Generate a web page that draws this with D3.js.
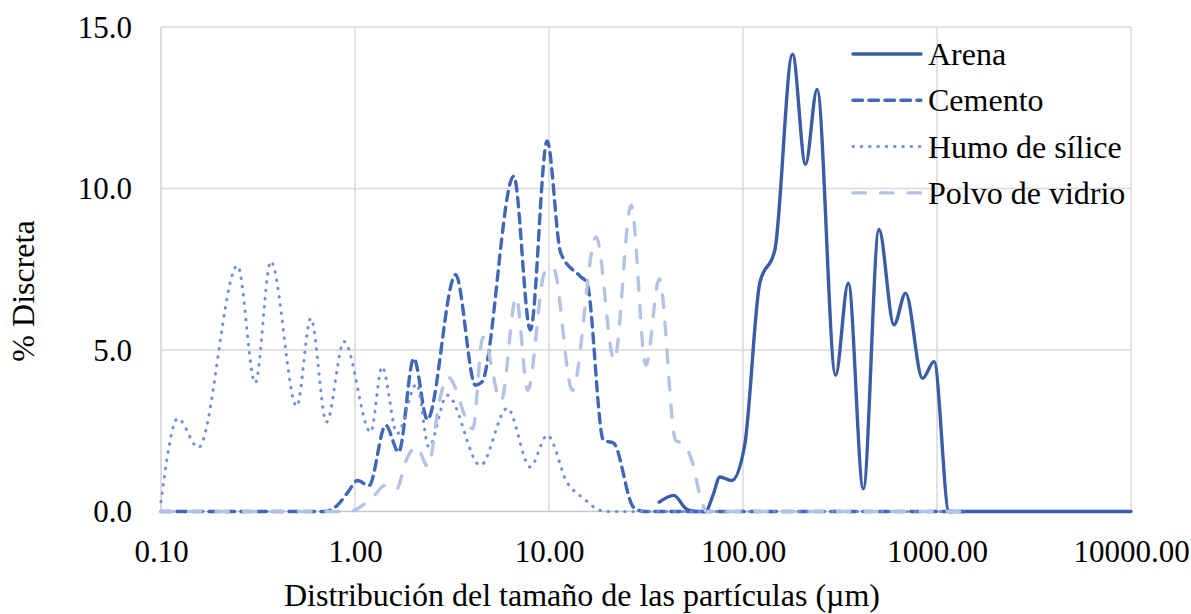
<!DOCTYPE html>
<html>
<head>
<meta charset="utf-8">
<script src="https://cdn.jsdelivr.net/npm/d3@7"></script>
<style>
  html, body { margin: 0; padding: 0; background: #ffffff; }
  svg { display: block; }
  text { font-family: "Liberation Serif", "Times New Roman", serif; fill: #000; }
</style>
</head>
<body>
<svg id="chart" width="1191" height="614"></svg>
<script>
// ---- Data ----
const seriesNames = ["Arena", "Cemento", "Humo de sílice", "Polvo de vidrio"];

const arenaX = [37, 44, 51, 57, 64, 70, 76, 87.5, 102, 122, 146, 180, 210, 241, 300, 349, 417, 502, 600, 689, 842, 966, 1154, 1500, 3000, 6000, 10000];
const arenaY = [0.29, 0.5, 0.08, 0, 0, 0.5, 1.07, 0.96, 2.05, 7.07, 8.1, 14.16, 10.75, 13.07, 4.22, 7.07, 0.7, 8.73, 5.78, 6.76, 4.12, 4.64, 0, 0, 0, 0, 0];

const cementoX = [0.1, 0.2, 0.4, 0.7, 0.81, 0.92, 1.03, 1.18, 1.44, 1.68, 2.01, 2.36, 3.3, 4.18, 4.5, 6.58, 8.02, 9.78, 11.5, 14.5, 15.7, 19.1, 21.5, 27.3, 31, 100, 1374];
const cementoY = [0, 0, 0, 0, 0.19, 0.6, 0.96, 0.8, 2.67, 1.84, 4.74, 2.85, 7.33, 3.91, 4.0, 10.38, 5.62, 11.47, 8.0, 7.28, 7.07, 2.2, 2.12, 0.13, 0, 0, 0];

const humoX = [0.1, 0.122, 0.156, 0.248, 0.306, 0.368, 0.501, 0.592, 0.713, 0.878, 1.205, 1.38, 1.65, 2.08, 2.4, 2.99, 4.43, 6.1, 8.0, 9.8, 12.4, 15.1, 18.4, 20, 100, 1374];
const humoY = [0.3, 2.88, 1.98, 7.61, 3.98, 7.74, 3.26, 5.98, 2.77, 5.26, 2.46, 4.48, 2.41, 3.95, 2.0, 3.6, 1.43, 3.2, 1.38, 2.36, 0.9, 0.4, 0.03, 0, 0, 0];

const polvoX = [0.1, 0.3, 0.6, 0.95, 1.0, 1.26, 1.42, 1.63, 1.84, 2.07, 2.38, 2.73, 3.01, 4.05, 4.56, 5.67, 6.77, 7.77, 9.5, 10.5, 13.2, 17.5, 21.7, 26.5, 31.6, 37, 45, 49, 55, 60, 65, 200, 1374];
const polvoY = [0, 0, 0, 0, 0.05, 0.5, 0.8, 0.68, 1.6, 2.0, 1.39, 3.45, 4.17, 2.56, 5.4, 3.43, 6.64, 3.75, 7.4, 7.56, 3.75, 8.5, 4.68, 9.48, 4.53, 7.2, 2.2, 2.1, 1.5, 0.5, 0, 0, 0];

const xTickValues = [0.1, 1, 10, 100, 1000, 10000];
const xTickLabels = ["0.10", "1.00", "10.00", "100.00", "1000.00", "10000.00"];
const yTickValues = [0, 5, 10, 15];
const yTickLabels = ["0.0", "5.0", "10.0", "15.0"];

const xTitle = "Distribución del tamaño de las partículas (µm)";
const yTitle = "% Discreta";

// ---- Styles ----
const styles = [
  { color: "#3a5da6", width: 3.4, dash: null, cap: "round" },
  { color: "#4068b6", width: 3.4, dash: "9.5,6.5", cap: "round" },
  { color: "#6f8fd6", width: 3, dash: "0.5,7.8", cap: "round" },
  { color: "#b4c3e4", width: 3.4, dash: "12.5,15", cap: "round" }
];

const data = [
  arenaX.map((x, i) => ({ x, y: arenaY[i] })),
  cementoX.map((x, i) => ({ x, y: cementoY[i] })),
  humoX.map((x, i) => ({ x, y: humoY[i] })),
  polvoX.map((x, i) => ({ x, y: polvoY[i] }))
];

// ---- Layout ----
const plot = { left: 161, right: 1131, top: 27, bottom: 511.5 };
const svg = d3.select("#chart");
const x = d3.scaleLog().domain([0.1, 10000]).range([plot.left, plot.right]);
const y = d3.scaleLinear().domain([0, 15]).range([plot.bottom, plot.top]);
const tickFont = 31;
const labelFont = 32;

// gridlines
const grid = svg.append("g");
grid.selectAll("line.h").data(yTickValues.filter(v => v > 0)).join("line")
  .attr("x1", plot.left).attr("x2", plot.right)
  .attr("y1", d => y(d)).attr("y2", d => y(d))
  .attr("stroke", "#d9d9d9").attr("stroke-width", 1.5);
grid.selectAll("line.v").data(xTickValues.filter(v => v > 0.1)).join("line")
  .attr("y1", plot.top).attr("y2", plot.bottom)
  .attr("x1", d => x(d)).attr("x2", d => x(d))
  .attr("stroke", "#d9d9d9").attr("stroke-width", 1.5);

// axes lines
svg.append("line").attr("x1", plot.left).attr("x2", plot.left)
  .attr("y1", plot.top).attr("y2", plot.bottom)
  .attr("stroke", "#d0d0d0").attr("stroke-width", 1.5);
svg.append("line").attr("x1", plot.left).attr("x2", plot.right)
  .attr("y1", plot.bottom).attr("y2", plot.bottom)
  .attr("stroke", "#c8c8c8").attr("stroke-width", 1.5);

// axes via d3 (labels only)
const xAxis = d3.axisBottom(x).tickValues(xTickValues)
  .tickFormat((d, i) => xTickLabels[i]).tickSize(0).tickPadding(0);
const gx = svg.append("g").attr("transform", `translate(0,${plot.bottom})`).call(xAxis);
gx.select(".domain").remove();
gx.selectAll("text").attr("font-size", tickFont).attr("dy", null).attr("y", 50)
  .attr("font-family", "Liberation Serif").attr("fill", "#000");

const yAxis = d3.axisLeft(y).tickValues(yTickValues)
  .tickFormat((d, i) => yTickLabels[i]).tickSize(0).tickPadding(0);
const gy = svg.append("g").attr("transform", `translate(${plot.left},0)`).call(yAxis);
gy.select(".domain").remove();
gy.selectAll("text").attr("font-size", tickFont).attr("x", -29).attr("dy", "0.33em")
  .attr("font-family", "Liberation Serif").attr("fill", "#000");

// series lines
const line = d3.line().x(d => x(d.x)).y(d => y(d.y)).curve(d3.curveMonotoneX);
const lines = svg.append("g");
data.forEach((s, i) => {
  lines.append("path").datum(s)
    .attr("d", line)
    .attr("fill", "none")
    .attr("stroke", styles[i].color)
    .attr("stroke-width", styles[i].width)
    .attr("stroke-linecap", styles[i].cap)
    .attr("stroke-linejoin", "round")
    .attr("stroke-dasharray", styles[i].dash);
});

// titles
svg.append("text").attr("x", 582).attr("y", 606)
  .attr("text-anchor", "middle").attr("font-size", labelFont).text(xTitle);
svg.append("text").attr("transform", "translate(34,291) rotate(-90)")
  .attr("text-anchor", "middle").attr("font-size", labelFont).text(yTitle);

// legend
const legend = svg.append("g");
seriesNames.forEach((name, i) => {
  const ly = 54 + i * 46.3;
  legend.append("line").attr("x1", 853).attr("x2", 921).attr("y1", ly).attr("y2", ly)
    .attr("stroke", styles[i].color).attr("stroke-width", styles[i].width)
    .attr("stroke-linecap", styles[i].cap)
    .attr("stroke-dasharray", styles[i].dash);
  legend.append("text").attr("x", 928).attr("y", ly + 11)
    .attr("font-size", labelFont).text(name);
});
</script>
</body>
</html>
